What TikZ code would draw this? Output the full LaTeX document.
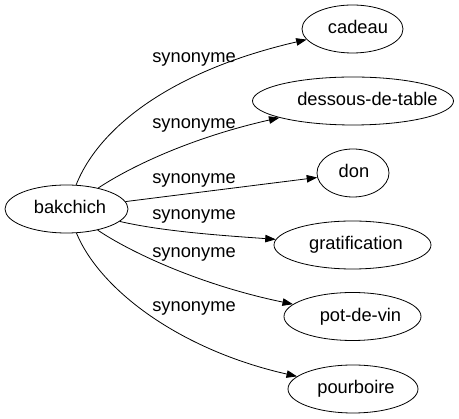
\documentclass[tikz,border=0pt]{standalone}
\usepackage{fontspec}
\setmainfont{Liberation Sans}
\usetikzlibrary{shapes.geometric,arrows.meta}
\newcommand\shiftedtext[2]{\makebox[0pt]{\hspace*{#1}#2}}
\begin{document}
\begin{tikzpicture}[x=1pt,y=-1pt,
  every node/.style={font=\fontsize{18.3}{22}\selectfont},
  ell/.style={draw, ellipse, line width=0.8pt, inner sep=0pt, minimum height=48pt, text height=13pt, text depth=3pt},
  rel/.style={draw, line width=0.8pt, -{Triangle[length=10.5pt,width=7.5pt]}},
  lab/.style={anchor=base, inner sep=0pt}]
\useasboundingbox (0,0) rectangle (459,419);
\node[ell, minimum width=123pt] (bak) at (66.5,209) {\shiftedtext{7pt}{bakchich}};
\node[ell, minimum width=101pt] (cad) at (352.5,29) {\shiftedtext{11pt}{cadeau}};
\node[ell, minimum width=201pt] (dess) at (353,101) {\shiftedtext{29pt}{dessous-de-table}};
\node[ell, minimum width=72pt] (don) at (353,173) {\shiftedtext{2pt}{don}};
\node[ell, minimum width=157pt] (grat) at (352.5,245) {\shiftedtext{7pt}{gratification}};
\node[ell, minimum width=137pt] (pot) at (352.5,316.5) {\shiftedtext{16pt}{pot-de-vin}};
\node[ell, minimum width=130pt] (pour) at (353,389) {\shiftedtext{6pt}{pourboire}};
\draw[rel] (bak) .. controls (100,125) and (175,70) .. (cad);
\draw[rel] (bak) .. controls (130,167) and (190,138) .. (dess);
\draw[rel] (bak) -- (don);
\draw[rel] (bak) .. controls (165,232) and (230,236) .. (grat);
\draw[rel] (bak) .. controls (130,252) and (200,285) .. (pot);
\draw[rel] (bak) .. controls (100,290) and (180,350) .. (pour);
\node[lab] (l1) at (194,62.3) {synonyme};
\node[lab] (l2) at (194,129) {synonyme};
\node[lab] (l3) at (194,183.3) {synonyme};
\node[lab] (l4) at (194,220) {synonyme};
\node[lab] (l5) at (194,257.3) {synonyme};
\node[lab] (l6) at (194,311.7) {synonyme};
\end{tikzpicture}
\end{document}
